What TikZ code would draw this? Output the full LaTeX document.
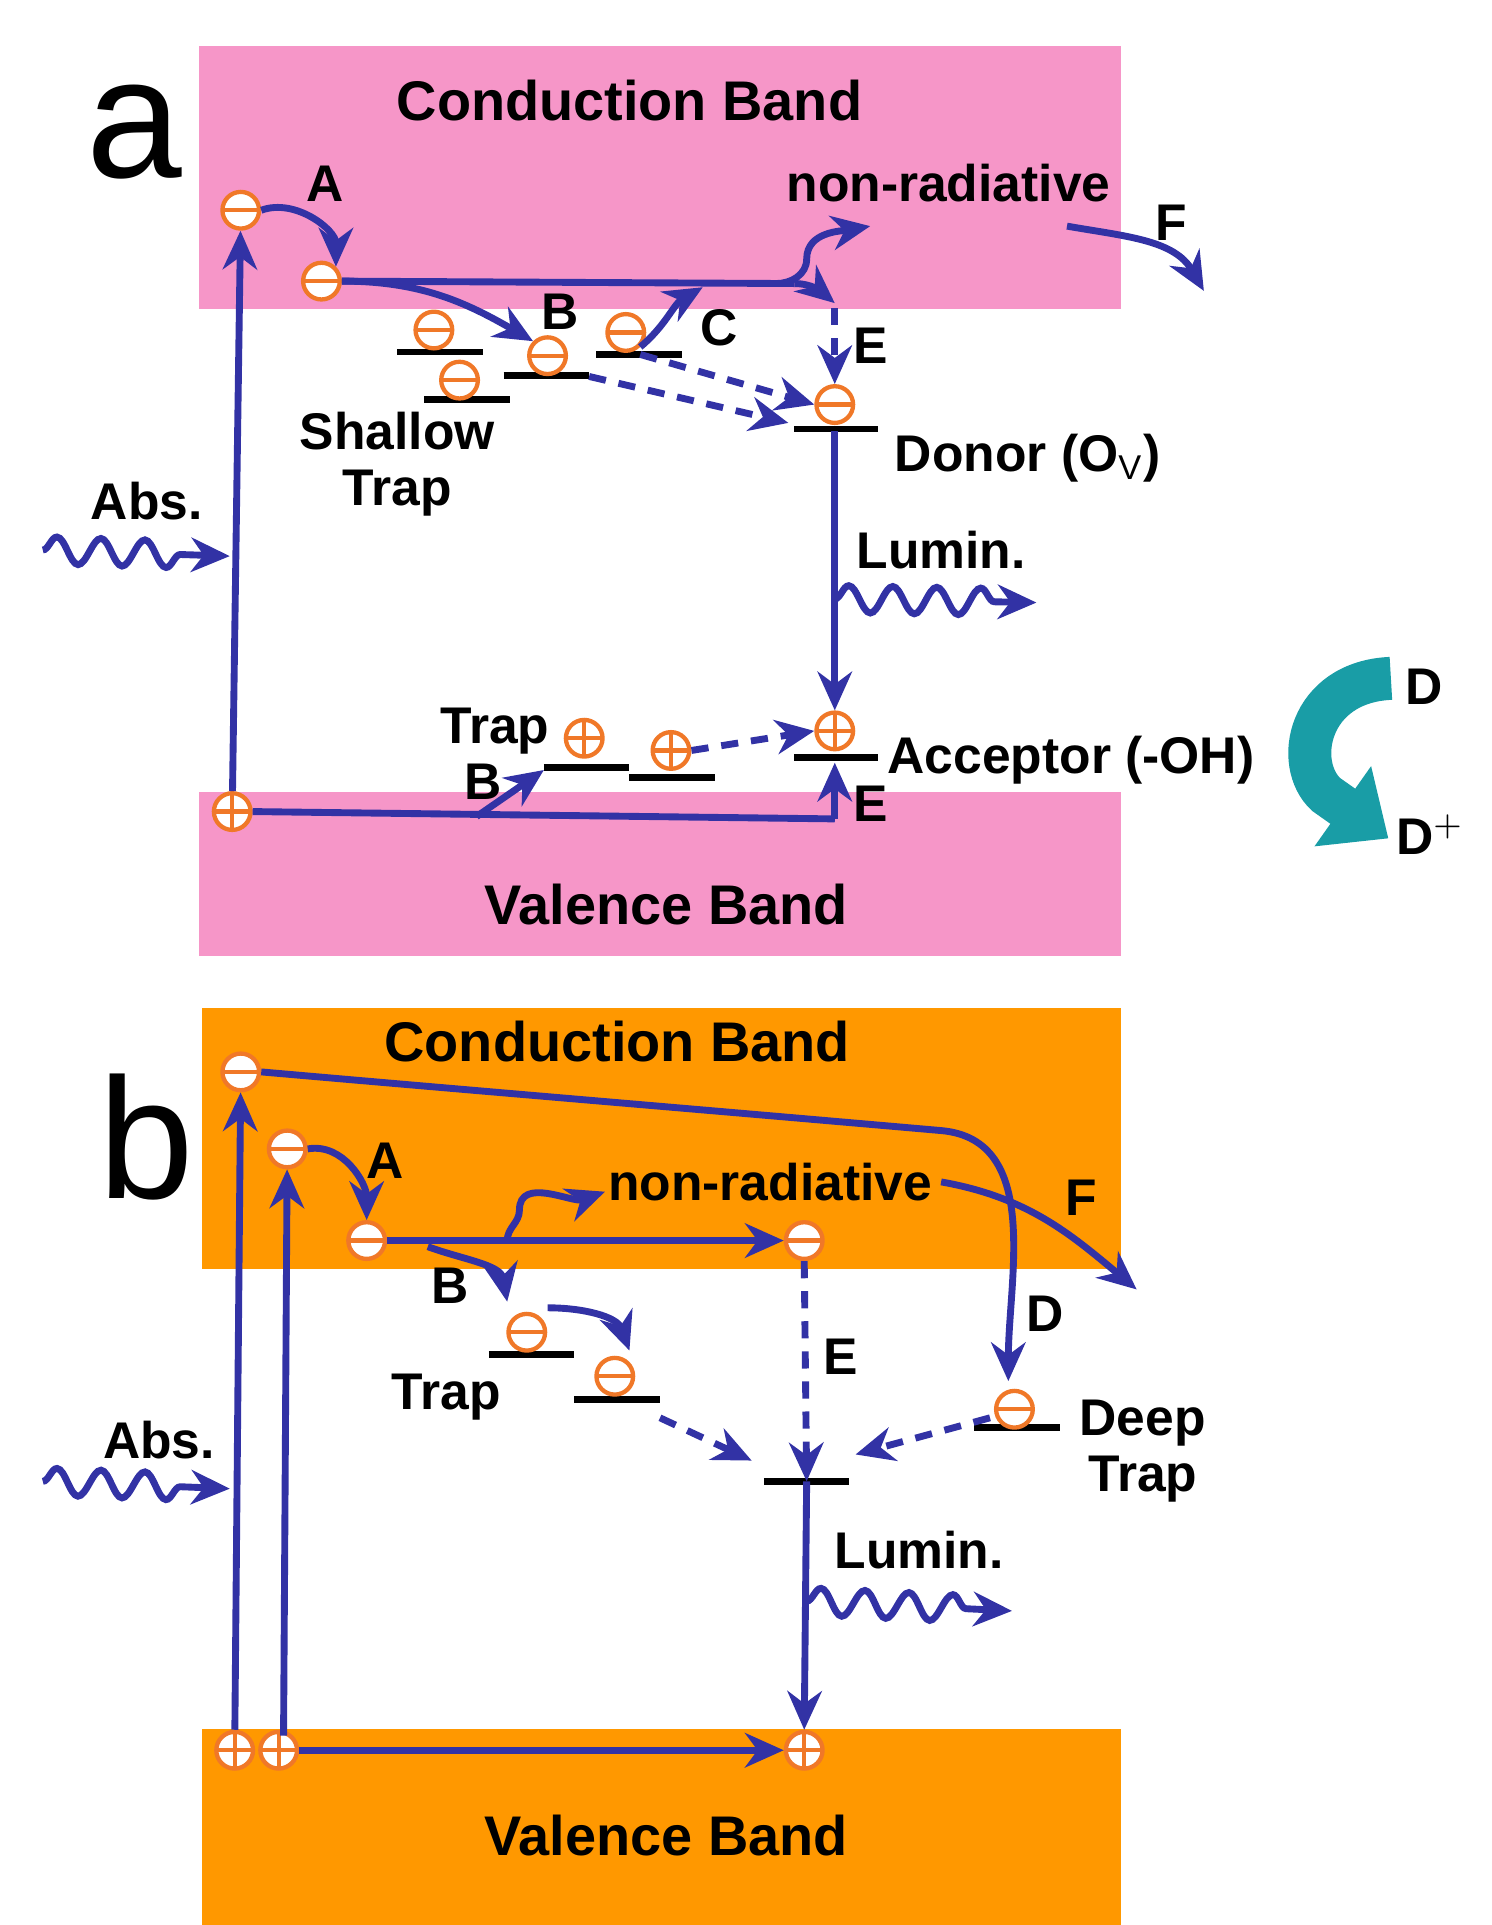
\documentclass[tikz,border=0pt]{standalone}
\usepackage{fontspec}
\setmainfont{Liberation Sans}
\usetikzlibrary{arrows.meta, decorations.pathmorphing, calc}
\definecolor{pinkb}{RGB}{246,150,200}
\definecolor{orab}{RGB}{255,152,0}
\definecolor{navy}{RGB}{50,50,165}
\definecolor{chg}{RGB}{240,120,40}
\definecolor{tealb}{RGB}{30,185,195}
\tikzstyle{band} = [draw=none]
\tikzstyle{lbl} = [font=\bfseries\fontsize{12}{13}\selectfont, inner sep=1pt]
\tikzstyle{big} = [font=\bfseries\fontsize{13}{14}\selectfont]
\tikzstyle{lev} = [line width=1.6pt, black]
\tikzstyle{arrow} = [line width=1.6pt, navy, -{Stealth[length=9pt,width=8pt]}]
\tikzstyle{dots} = [arrow, dash pattern=on 4pt off 3pt]
\tikzstyle{wave} = [arrow, decorate, decoration={snake, amplitude=1.1mm,
segment length=3.6mm, post length=3mm}]
\tikzstyle{el} = [circle, draw=chg, fill=white, line width=1pt, minimum
size=0.3cm, inner sep=0pt, path picture={\draw[chg, line width=1pt]
(path picture bounding box.west) -- (path picture bounding box.east);}]
\tikzstyle{ho} = [el, path picture={\draw[chg, line width=1pt]
(path picture bounding box.west) -- (path picture bounding box.east)
(path picture bounding box.north) -- (path picture bounding box.south);}]

\begin{document}
\begin{tikzpicture}[x=0.01cm, y=-0.01cm]
    \useasboundingbox (0,0) rectangle (1220,1575);
    % panel a
    \fill [pinkb] (163,38) rectangle (917,253); \fill [pinkb] (163,648)
    rectangle (917,782); \node [big] (CBa) at (515,82) {Conduction Band};
    \node [big] (VBa) at (545,740) {Valence Band}; \node [font=\fontsize{40}{40}\selectfont]
    (a) at (110,108) {a};

    \draw [lev] (325,288) -- (395,288); \draw [lev] (347,327) -- (417,327);
    \draw [lev] (412,307) -- (482,307); \draw [lev] (488,290) -- (558,290);
    \draw [lev] (650,351) -- (718,351); \draw [lev] (650,620) -- (718,620);
    \draw [lev] (445,628) -- (515,628); \draw [lev] (515,636) -- (585,636);

    \node [el] (e1) at (197,172) {}; \node [el] (e2) at (263,230) {}; \node
    [el] (e3) at (355,270) {}; \node [el] (e4) at (376,311) {}; \node [el]
    (e5) at (448,291) {}; \node [el] (e6) at (512,272) {}; \node [el] (eD)
    at (683,331) {}; \node [ho] (hV) at (190,664) {}; \node [ho] (hA) at
    (683,598) {}; \node [ho] (h1) at (478,604) {}; \node [ho] (h2) at
    (549,614) {};

    \coordinate (J) at (650,232); \coordinate (NR) at (712,185);
    \draw [arrow] (hV) -- (e1); \draw [arrow] (e1.east) to [out=20, in=90]
    (e2.north east); \draw [line width=1.6pt, navy] (e2.east) -- (J);
    \draw [arrow] (J) to [out=0, in=140] (eD.north |- 0,248); \draw [arrow]
    (635,232) to [out=0, in=-90] (660,212) to [out=90, in=190] (NR); \draw
    [arrow] (e2.east) to [out=0, in=150] (e5.north west); \draw [arrow]
    (e6.south east) to [out=40, in=210] (575,235); \draw [dots] (683,252)
    -- (eD.north); \draw [dots] (e6.south east |- 0,290) -- (eD.west); \draw
    [dots] (482,308) -- (645,346); \draw [arrow] (eD.south |- 0,353) --
    (hA.north); \draw [wave] (683,490) -- (848,493); \draw [wave] (35,450)
    -- (188,455); \draw [line width=1.6pt, navy] (hV.east) -- (683,670);
    \draw [arrow] (683,670) -- (683,624); \draw [arrow] (390,668) -- (445,630);
    \draw [dots] (h2.east) -- (hA.west); \draw [arrow] (873,185) to
    [out=-10, in=120] (985,238);
    \draw [line width=10pt, tealb!85!black, -{Triangle[length=13pt,width=22pt]}]
    (1138,555) .. controls (1070,558) and (1058,625) .. (1085,650) --
    (1136,686);

    \node [lbl] (A1) at (266,150) {A}; \node [lbl] (B1) at (458,255) {B};
    \node [lbl] (C1) at (588,268) {C}; \node [lbl] (E1) at (712,283) {E};
    \node [lbl] (E2) at (712,658) {E}; \node [lbl] (B2) at (395,640) {B};
    \node [lbl] (F1) at (958,182) {F}; \node [lbl] (NRa) at (776,150)
    {non-radiative}; \node [lbl, align=center] (ST) at (325,380) {Shallow\\
      Trap}; \node [lbl, anchor=west] (Ov) at (728,375) {Donor
      (O$_\mathrm{V}$)}; \node [lbl] (Lua) at (770,450) {Lumin.}; \node
    [lbl] (Aba) at (120,410) {Abs.}; \node [lbl] (Tr) at (405,598) {Trap};
    \node [lbl, anchor=west] (Ac) at (722,622) {Acceptor (-OH)}; \node
    [lbl] (D) at (1165,562) {D}; \node [lbl] (Dp) at (1170,683) {D$^{+}$};

    % panel b
    \fill [orab] (165,825) rectangle (917,1038); \fill [orab] (165,1415)
    rectangle (917,1575); \node [big] (CBb) at (505,852) {Conduction Band};
    \node [big] (VBb) at (545,1502) {Valence Band}; \node
    [font=\fontsize{40}{40}\selectfont] (b) at (120,930) {b};

    \draw [lev] (400,1108) -- (470,1108); \draw [lev] (470,1145) --
    (540,1145); \draw [lev] (797,1168) -- (867,1168); \draw [lev] (625,1212)
    -- (695,1212);

    \node [el] (f1) at (197,877) {}; \node [el] (f2) at (235,940) {}; \node
    [el] (f3) at (300,1015) {}; \node [el] (f4) at (658,1015) {}; \node [el]
    (f5) at (431,1090) {}; \node [el] (f6) at (503,1126) {}; \node [el] (f7)
    at (830,1153) {}; \node [ho] (g1) at (192,1432) {}; \node [ho] (g2) at
    (228,1432) {}; \node [ho] (g3) at (658,1432) {};

    \coordinate (L) at (660,1212);
    \draw [arrow] (g1) -- (f1); \draw [arrow] (232,1420) -- (f2); \draw
    [arrow] (f2.east) to [out=10, in=90] (f3.north); \draw [arrow] (f3.east)
    -- (f4.west); \draw [arrow] (415,1015) to [out=90, in=-90] (425,990) to
    [out=90, in=200] (495,975); \draw [arrow] (f1.east) to [out=-5, in=175]
    (770,925) to [out=-5, in=90] (825,1130); \draw [arrow] (770,967) to
    [out=-10, in=140] (930,1055); \draw [arrow] (350,1020) to [out=-20,
    in=100] (415,1065); \draw [arrow] (448,1070) to [out=0, in=110]
    (515,1105); \draw [dots] (f4.south) -- (L); \draw [dots] (540,1160) --
    (615,1195); \draw [dots] (810,1160) -- (700,1190); \draw [arrow]
    (L) -- (g3.north); \draw [wave] (660,1310) -- (828,1318); \draw [wave]
    (35,1212) -- (188,1218); \draw [arrow] (g2.east) -- (g3.west);

    \node [lbl] (A2) at (315,950) {A}; \node [lbl] (B3) at (368,1052) {B};
    \node [lbl] (E3) at (688,1110) {E}; \node [lbl] (D2) at (855,1075) {D};
    \node [lbl] (F2) at (885,980) {F}; \node [lbl] (NRb) at (630,967)
    {non-radiative}; \node [lbl] (Trb) at (365,1143) {Trap}; \node [lbl,
    align=center] (DT) at (935,1187) {Deep\\ Trap}; \node [lbl] (Lub) at
    (752,1268) {Lumin.}; \node [lbl] (Abb) at (130,1178) {Abs.};

  \end{tikzpicture}
\end{document}
